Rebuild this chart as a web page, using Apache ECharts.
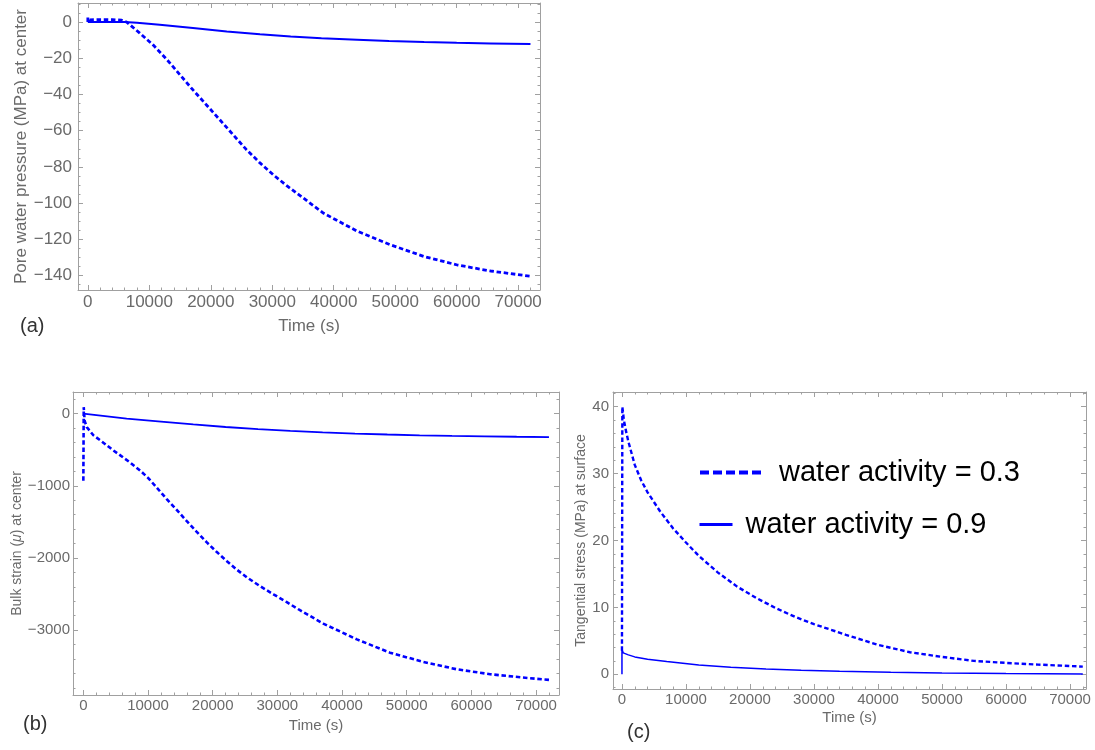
<!DOCTYPE html>
<html><head><meta charset="utf-8">
<script src="https://cdn.jsdelivr.net/npm/echarts@6/dist/echarts.min.js"></script>
<style>html,body{margin:0;padding:0;background:#fff}#c{width:1095px;height:750px}</style>
</head><body><div id="c"></div>
<script>
// ---------- data ----------
const seriesNames = ['water activity = 0.3', 'water activity = 0.9'];

// (a) pore water pressure at center (MPa)
const timeA03 = [0, 0, 300, 2000, 4000, 5500, 6300, 8400, 10600, 12800, 15000, 17100, 19300, 21500, 23700, 25800, 28000, 30200, 32400, 34300, 38300, 43800, 49200, 54700, 60100, 65500, 72000];
const poreA03 = [0, 2.5, 1.2, 1.3, 1.3, 1.0, 0, -6, -12.6, -20.5, -29.2, -37.5, -45.8, -54.1, -62.5, -70.5, -77.8, -84.5, -90.5, -95.3, -105.5, -115.5, -123, -129.5, -134.2, -137.5, -140.4];
const timeA09 = [0, 3000, 6000, 8000, 11700, 17100, 22600, 28000, 33000, 38000, 43800, 49000, 54700, 60000, 65500, 72000];
const poreA09 = [0, 0, 0, -0.4, -1.5, -3.3, -5.2, -6.7, -8.0, -9.0, -9.8, -10.5, -11.1, -11.5, -11.8, -12.2];

// (b) bulk strain at center (micro)
const timeB03 = [0, 60, 200, 520, 1550, 2600, 4600, 7200, 8800, 10000, 11300, 12900, 14400, 16000, 17500, 19100, 20600, 22200, 23700, 25300, 27300, 29400, 31400, 33500, 37100, 42300, 47400, 52600, 57700, 62900, 69000, 72000];
const strainB03 = [-930, 90, -100, -185, -300, -369, -507, -675, -790, -890, -1020, -1185, -1330, -1490, -1635, -1785, -1915, -2045, -2160, -2270, -2390, -2505, -2610, -2725, -2910, -3129, -3313, -3442, -3543, -3612, -3667, -3690];
const timeB09 = [0, 300, 6700, 12000, 17000, 22000, 27000, 32000, 37000, 42000, 47000, 52000, 57000, 62000, 67000, 72000];
const strainB09 = [0, -20, -69, -110, -150, -185, -215, -240, -260, -276, -289, -300, -308, -314, -320, -325];

// (c) tangential stress at surface (MPa)
const timeC03 = [0, 60, 300, 600, 1000, 2000, 3000, 4000, 6000, 8000, 10000, 12000, 15000, 18000, 21000, 24000, 27000, 30000, 35000, 40000, 45000, 50000, 55000, 60000, 65000, 72000];
const stressC03 = [3.5, 40, 38, 36.5, 34.8, 31.3, 29, 27.2, 24.3, 21.8, 19.7, 17.7, 15.2, 13.1, 11.4, 9.9, 8.6, 7.5, 5.9, 4.4, 3.3, 2.6, 2.0, 1.7, 1.45, 1.15];
const timeC09 = [0, 0, 200, 1000, 2000, 4000, 7000, 12000, 17000, 22500, 28000, 34000, 42000, 50000, 60000, 72000];
const stressC09 = [0, 3.7, 3.2, 2.9, 2.6, 2.25, 1.9, 1.4, 1.05, 0.8, 0.6, 0.45, 0.3, 0.2, 0.1, 0.03];

// tick labels
const timeTicks = [0, 10000, 20000, 30000, 40000, 50000, 60000, 70000];
const ticksA = [-140, -120, -100, -80, -60, -40, -20, 0];
const ticksB = [-3000, -2000, -1000, 0];
const ticksC = [0, 10, 20, 30, 40];

// ---------- chart ----------
const FONT = '"Liberation Sans", Arial, sans-serif';
const FRAME = '#a0a0a0';
const LABEL = '#6a6a6a';
const BLUE = '#0000ff';
const zip = (a, b) => a.map((v, i) => [v, b[i]]);
const fmt = v => (v < 0 ? '\u2212' + Math.abs(v) : String(v));

function axisPair(kind, grid, min, max, split, minorSplit, ticks, fs, margin, name, nameGap, nameFs) {
  const posMain = kind === 'x' ? 'bottom' : 'left';
  const posOpp = kind === 'x' ? 'top' : 'right';
  const base = {
    type: 'value', gridIndex: grid, min, max, splitNumber: split, scale: true,
    axisLine: { show: true, onZero: false, lineStyle: { color: FRAME, width: 1 } },
    axisTick: { show: true, inside: true, length: 5, customValues: ticks, lineStyle: { color: FRAME } },
    minorTick: { show: true, splitNumber: minorSplit, length: 2.5, lineStyle: { color: FRAME } },
    splitLine: { show: false }, minorSplitLine: { show: false }
  };
  const main = Object.assign({}, base, {
    position: posMain,
    axisLabel: { show: true, customValues: ticks, formatter: fmt, color: LABEL, fontSize: fs, fontFamily: FONT, margin },
    name, nameLocation: 'middle', nameGap,
    nameTextStyle: { color: LABEL, fontSize: nameFs, fontFamily: FONT, rich: { i: { fontStyle: 'italic', color: LABEL, fontSize: nameFs, fontFamily: FONT } } }
  });
  const opp = Object.assign({}, base, { position: posOpp, axisLabel: { show: false }, name: '' });
  return [main, opp];
}

const X = 'Time (s)';
const xAxis = [].concat(
  axisPair('x', 0, -1600, 73550, 7, 5, timeTicks, 17, 4, X, 28, 17),
  axisPair('x', 1, -1600, 73550, 7, 5, timeTicks, 15, 3, X, 23, 15),
  axisPair('x', 2, -1400, 72500, 7, 5, timeTicks, 15, 3, X, 21, 15)
);
const yAxis = [].concat(
  axisPair('y', 0, -148, 10.5, 8, 4, ticksA, 17, 6, 'Pore water pressure (MPa) at center', 47, 17),
  axisPair('y', 1, -3900, 300, 4, 5, ticksB, 15, 3, 'Bulk strain ({i|\u03bc}) at center', 46, 14),
  axisPair('y', 2, -2.2, 42.2, 4, 5, ticksC, 15, 4, 'Tangential stress (MPa) at surface', 23, 14)
);

function line(name, g, t, v, dashed, w) {
  return {
    type: 'line', name, xAxisIndex: 2 * g, yAxisIndex: 2 * g,
    data: zip(t, v), symbol: 'none', showSymbol: false, animation: false,
    lineStyle: { color: BLUE, width: w, type: dashed ? [4.5, 2.7] : 'solid', cap: 'butt' },
    itemStyle: { color: BLUE }
  };
}

const legendText = { fontSize: 29, color: '#000', fontFamily: FONT };
const option = {
  backgroundColor: '#fff',
  animation: false,
  grid: [
    { left: 78, top: 3, width: 462, height: 287 },
    { left: 73, top: 392, width: 486, height: 303 },
    { left: 613, top: 392, width: 473, height: 297 }
  ],
  title: [
    { text: '(a)', left: 20, top: 316, padding: 0, textStyle: { fontSize: 20, fontWeight: 'normal', color: '#333', fontFamily: FONT } },
    { text: '(b)', left: 23, top: 714, padding: 0, textStyle: { fontSize: 20, fontWeight: 'normal', color: '#333', fontFamily: FONT } },
    { text: '(c)', left: 627, top: 722, padding: 0, textStyle: { fontSize: 20, fontWeight: 'normal', color: '#333', fontFamily: FONT } }
  ],
  legend: [
    { data: [seriesNames[0]], left: 698, top: 458, padding: 0, itemWidth: 62, itemHeight: 14, selectedMode: false,
      itemStyle: { opacity: 0, borderWidth: 0 },
      lineStyle: { width: 4, type: [9, 4] },
      textStyle: Object.assign({ padding: [0, 0, 0, 12] }, legendText) },
    { data: [seriesNames[1]], left: 698, top: 510, padding: 0, itemWidth: 33, itemHeight: 14, selectedMode: false,
      itemStyle: { opacity: 0, borderWidth: 0 },
      lineStyle: { width: 3 },
      textStyle: Object.assign({ padding: [0, 0, 0, 8] }, legendText) }
  ],
  xAxis, yAxis,
  series: [
    line(seriesNames[0], 0, timeA03, poreA03, true, 2.8),
    line(seriesNames[1], 0, timeA09, poreA09, false, 2),
    line(seriesNames[0], 1, timeB03, strainB03, true, 2.6),
    line(seriesNames[1], 1, timeB09, strainB09, false, 1.8),
    line(seriesNames[0], 2, timeC03, stressC03, true, 2.4),
    line(seriesNames[1], 2, timeC09, stressC09, false, 1.5)
  ]
};
const chart = echarts.init(document.getElementById('c'), null, { renderer: 'canvas' });
chart.setOption(option);
</script></body></html>
